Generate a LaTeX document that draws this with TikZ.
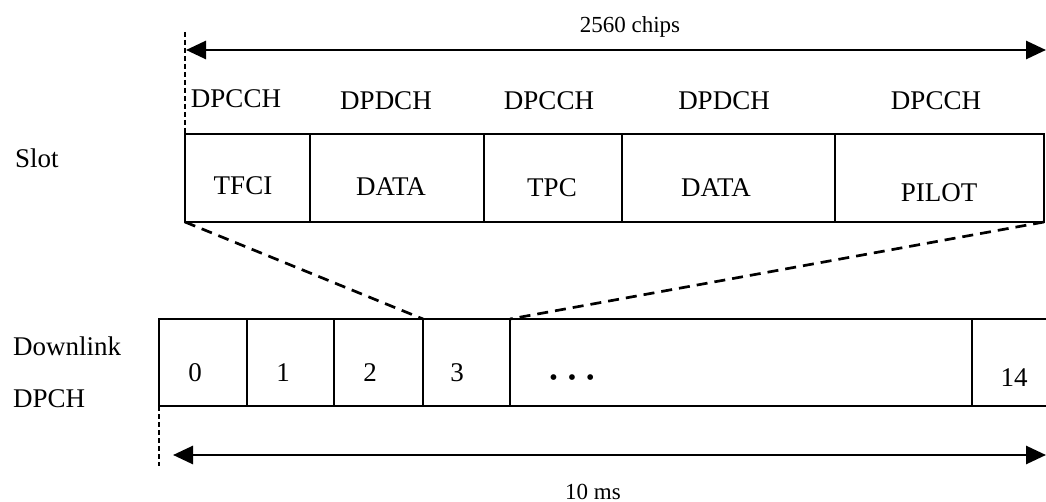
\documentclass[tikz,border=0pt]{standalone}
\usepackage{fontspec}
\setmainfont{Liberation Serif}
\usetikzlibrary{arrows.meta}
\begin{document}
\begin{tikzpicture}[x=1pt,y=-1pt,
  cell/.style={draw, line width=2.7pt, inner sep=0pt, outer sep=0pt},
  txt/.style={anchor=base, inner sep=0pt, font=\fontsize{27}{30}\selectfont},
  sidetxt/.style={anchor=base west, inner sep=0pt, font=\fontsize{27}{30}\selectfont},
  small/.style={anchor=base, inner sep=0pt, font=\fontsize{23}{26}\selectfont},
  guide/.style={line width=1.4pt, dash pattern=on 5pt off 3pt},
  zoomline/.style={line width=2.7pt, dash pattern=on 11pt off 7pt},
  span/.style={line width=2.8pt, {Triangle[length=20pt,width=18pt]}-{Triangle[length=20pt,width=18pt]}}]
\useasboundingbox (0,0) rectangle (1046,502);

% slot cells
\node[cell, minimum width=125pt, minimum height=88pt] (tfci)  at (247.5,178) {};
\node[cell, minimum width=174pt, minimum height=88pt] (data1) at (397,178) {};
\node[cell, minimum width=138pt, minimum height=88pt] (tpc)   at (553,178) {};
\node[cell, minimum width=213pt, minimum height=88pt] (data2) at (728.5,178) {};
\node[cell, minimum width=209pt, minimum height=88pt] (pilot) at (939.5,178) {};

% cell texts
\node[txt] (ttfci)  at (243,195) {TFCI};
\node[txt] (tdata1) at (391,196) {DATA};
\node[txt] (ttpc)   at (552,197) {TPC};
\node[txt] (tdata2) at (716,197) {DATA};
\node[txt] (tpilot) at (939,202) {PILOT};

% channel labels
\node[txt] (ch1) at (236,108) {DPCCH};
\node[txt] (ch2) at (386,110) {DPDCH};
\node[txt] (ch3) at (549,110) {DPCCH};
\node[txt] (ch4) at (724,110) {DPDCH};
\node[txt] (ch5) at (936,110) {DPCCH};

% frame cells
\node[cell, minimum width=88pt, minimum height=87pt]  (c0)  at (203,362.5) {};
\node[cell, minimum width=87pt, minimum height=87pt]  (c1)  at (290.5,362.5) {};
\node[cell, minimum width=89pt, minimum height=87pt]  (c2)  at (378.5,362.5) {};
\node[cell, minimum width=87pt, minimum height=87pt]  (c3)  at (466.5,362.5) {};
\node[cell, minimum width=462pt, minimum height=87pt] (cd)  at (741,362.5) {};
\node[cell, minimum width=80pt, minimum height=87pt]  (c14) at (1012,362.5) {};

\node[txt] (t0)  at (195,381) {0};
\node[txt] (t1)  at (283,381) {1};
\node[txt] (t2)  at (370,381) {2};
\node[txt] (t3)  at (457,381) {3};
\node[anchor=base, inner sep=0pt, font=\fontsize{24}{26}\selectfont] (tdots) at (572,385) {•\hspace{10pt}•\hspace{10pt}•};
\node[txt] (t14) at (1014,386) {14};

% side labels
\node[sidetxt] (slot) at (15,168) {Slot};
\node[sidetxt] (dl1)  at (13,355) {Downlink};
\node[sidetxt] (dl2)  at (13,407) {DPCH};

% dimension arrows
\coordinate (ta) at (186,50);
\coordinate (tb) at (1046,50);
\coordinate (ba) at (173,455);
\coordinate (bb) at (1046,455);
\draw[span] (ta) -- (tb);
\draw[span] (ba) -- (bb);
\node[small] (chips) at (630,33) {2560 chips};
\node[small] (ms) at (593,499) {10 ms};

% guides
\coordinate (gtop) at (185,32);
\coordinate (gbot) at (159,466);
\draw[guide] (gtop) -- (tfci.north west);
\draw[guide] (c0.south west) -- (gbot);

% zoom lines
\draw[zoomline] (tfci.south west) -- (c3.north west);
\draw[zoomline] (pilot.south east) -- (cd.north west);
\end{tikzpicture}
\end{document}
